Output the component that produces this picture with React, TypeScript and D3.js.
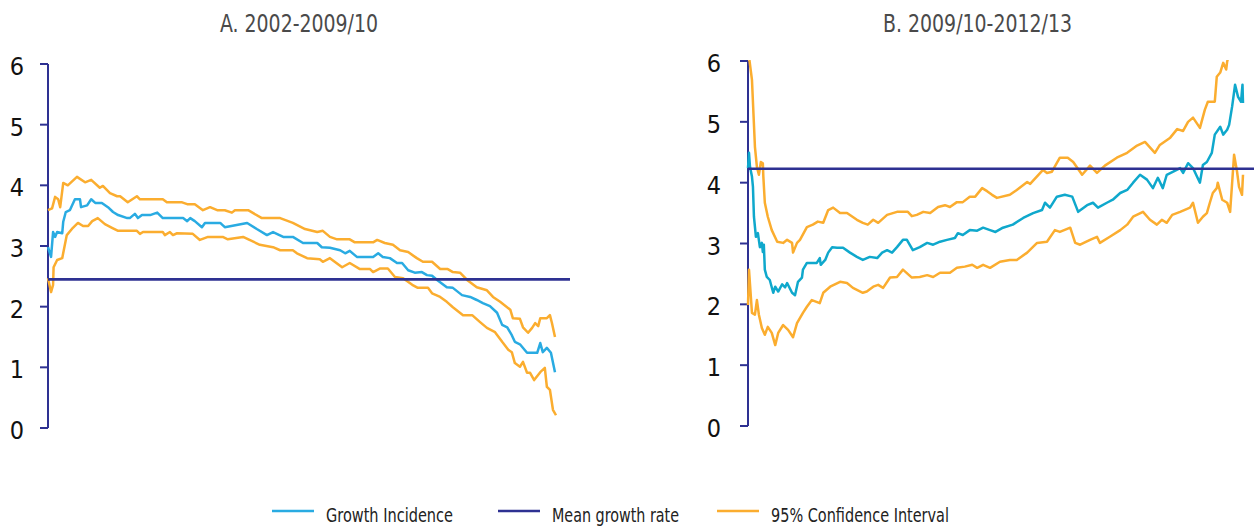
import React from "react";
import * as d3 from "d3";

// ---------- DATA ----------
const titles = ["A. 2002-2009/10", "B. 2009/10-2012/13"];
const yTicks = [0, 1, 2, 3, 4, 5, 6];
const legendLabels = ["Growth Incidence", "Mean growth rate", "95% Confidence Interval"];

const meanA = 2.45;
const meanB = 4.23;

// [percentile, growth rate]
const growthA: [number, number][] = [
  [0, 2.98], [0.6, 2.82], [1.0, 3.23], [1.4, 3.15], [1.8, 3.23], [2.8, 3.21], [3.0, 3.4], [3.5, 3.56],
  [4.3, 3.59], [5.3, 3.77], [6.3, 3.77], [6.5, 3.64], [7.7, 3.67], [8.5, 3.77], [9.3, 3.71], [10.6, 3.71],
  [11.8, 3.64], [12.8, 3.56], [13.8, 3.51], [15.6, 3.46], [16.1, 3.46], [17.1, 3.53], [17.7, 3.46],
  [18.5, 3.51], [20.1, 3.51], [21.5, 3.55], [22.6, 3.46], [26.6, 3.46], [27.4, 3.41], [28.0, 3.46],
  [28.9, 3.41], [30.3, 3.31], [30.9, 3.38], [33.9, 3.38], [34.8, 3.31], [39.2, 3.38], [41.1, 3.28],
  [43.1, 3.18], [44.3, 3.23], [46.3, 3.15], [48.2, 3.15], [50.2, 3.05], [53.0, 3.05], [53.9, 2.98],
  [55.5, 2.97], [57.5, 2.93], [58.5, 2.88], [59.4, 2.92], [60.8, 2.82], [64.0, 2.82], [65.0, 2.88],
  [65.9, 2.82], [67.3, 2.8], [68.7, 2.72], [69.7, 2.72], [70.9, 2.6], [72.2, 2.56], [73.6, 2.57],
  [74.6, 2.52], [75.6, 2.51], [76.6, 2.44], [78.5, 2.32], [79.7, 2.31], [81.5, 2.19], [83.1, 2.16],
  [84.4, 2.11], [85.6, 2.06], [87.0, 2.01], [88.4, 1.9], [89.4, 1.7], [90.4, 1.66], [91.3, 1.53],
  [91.9, 1.42], [92.9, 1.38], [94.3, 1.24], [96.3, 1.24], [96.9, 1.4], [97.4, 1.25], [98.2, 1.32],
  [99.0, 1.24], [99.8, 0.92],
];

const upperA: [number, number][] = [
  [0, 3.59], [0.8, 3.62], [1.4, 3.81], [2.0, 3.77], [2.4, 3.64], [3.0, 4.04], [3.9, 4.0], [5.7, 4.14],
  [7.3, 4.05], [8.5, 4.09], [10.2, 3.96], [10.8, 3.99], [12.2, 3.87], [13.6, 3.82], [14.2, 3.82],
  [15.7, 3.72], [17.5, 3.82], [18.1, 3.77], [22.6, 3.77], [23.4, 3.72], [26.4, 3.72], [27.4, 3.69],
  [28.9, 3.69], [30.5, 3.59], [31.9, 3.64], [33.3, 3.59], [34.8, 3.59], [36.2, 3.55], [36.8, 3.59],
  [39.4, 3.59], [42.1, 3.46], [45.7, 3.46], [48.2, 3.38], [50.6, 3.28], [53.0, 3.23], [54.1, 3.25],
  [55.5, 3.15], [56.9, 3.11], [59.4, 3.11], [60.4, 3.06], [64.0, 3.06], [64.8, 3.1], [66.3, 3.05],
  [67.9, 3.02], [69.3, 2.93], [70.9, 2.9], [72.6, 2.8], [73.8, 2.74], [75.6, 2.74], [77.2, 2.62],
  [78.7, 2.62], [79.7, 2.57], [81.1, 2.56], [82.5, 2.44], [84.4, 2.32], [86.4, 2.27], [87.6, 2.16],
  [89.0, 2.08], [91.0, 1.95], [91.5, 1.81], [92.9, 1.8], [93.5, 1.66], [94.5, 1.57], [95.3, 1.65],
  [95.9, 1.73], [96.5, 1.68], [96.9, 1.81], [98.2, 1.81], [98.8, 1.86], [99.2, 1.73], [99.8, 1.5],
];

const lowerA: [number, number][] = [
  [0, 2.47], [0.6, 2.24], [1.0, 2.36], [1.1, 2.65], [1.8, 2.77], [2.8, 2.8], [3.7, 3.18], [4.9, 3.3],
  [5.9, 3.38], [6.9, 3.33], [7.9, 3.33], [8.7, 3.41], [9.8, 3.46], [11.2, 3.36], [12.6, 3.3],
  [13.8, 3.25], [17.5, 3.25], [18.1, 3.2], [18.7, 3.23], [22.6, 3.23], [23.0, 3.18], [24.0, 3.23],
  [24.6, 3.18], [25.4, 3.21], [28.5, 3.2], [29.9, 3.1], [31.5, 3.15], [34.4, 3.15], [35.4, 3.11],
  [38.4, 3.15], [41.7, 3.02], [44.3, 2.98], [45.7, 2.93], [48.2, 2.93], [49.0, 2.88], [51.0, 2.8],
  [53.5, 2.78], [54.1, 2.74], [55.5, 2.8], [57.9, 2.65], [59.4, 2.72], [61.4, 2.62], [63.4, 2.62],
  [64.0, 2.57], [65.4, 2.63], [66.9, 2.63], [68.3, 2.49], [69.9, 2.47], [71.7, 2.36], [72.8, 2.31],
  [74.8, 2.31], [75.6, 2.22], [77.2, 2.16], [78.5, 2.08], [79.7, 1.99], [81.7, 1.86], [83.5, 1.86],
  [85.0, 1.75], [86.4, 1.65], [88.0, 1.58], [89.4, 1.42], [90.6, 1.29], [91.3, 1.25], [91.9, 1.07],
  [92.9, 1.01], [93.5, 1.09], [94.3, 0.91], [94.9, 0.91], [95.7, 0.79], [96.9, 0.92], [97.8, 0.99],
  [98.2, 0.68], [98.8, 0.63], [99.4, 0.3], [100, 0.21],
];

const growthB: [number, number][] = [
  [0, 4.24], [0.2, 4.49], [0.4, 4.26], [0.8, 4.1], [1.0, 3.93], [1.2, 3.44], [1.6, 3.11], [2.0, 3.17],
  [2.4, 2.94], [2.8, 3.01], [3.0, 2.86], [3.2, 2.98], [3.4, 2.57], [3.8, 2.45], [4.4, 2.4], [5.1, 2.19],
  [5.5, 2.29], [6.1, 2.21], [6.9, 2.33], [7.5, 2.28], [7.9, 2.35], [8.9, 2.19], [9.5, 2.15], [10.1, 2.37],
  [10.9, 2.44], [11.1, 2.57], [11.9, 2.68], [13.9, 2.68], [14.5, 2.76], [14.7, 2.65], [15.6, 2.73],
  [16.2, 2.85], [17.0, 2.94], [18.0, 2.93], [19.2, 2.93], [20.6, 2.85], [22.0, 2.78], [23.2, 2.73],
  [24.6, 2.78], [26.1, 2.76], [27.1, 2.85], [28.1, 2.89], [29.1, 2.85], [30.1, 2.94], [31.3, 3.06],
  [32.1, 3.06], [33.3, 2.89], [34.7, 2.94], [36.2, 3.01], [37.4, 2.98], [38.8, 3.03], [40.2, 3.06],
  [41.8, 3.09], [42.4, 3.17], [43.4, 3.14], [44.8, 3.22], [46.3, 3.21], [47.5, 3.26], [48.9, 3.22],
  [50.0, 3.19], [51.5, 3.26], [53.5, 3.31], [55.6, 3.42], [57.6, 3.5], [59.4, 3.55], [60.0, 3.67],
  [61.0, 3.59], [62.4, 3.77], [64.0, 3.8], [65.5, 3.77], [66.7, 3.52], [68.5, 3.63], [69.7, 3.67],
  [70.7, 3.59], [72.5, 3.67], [73.7, 3.72], [75.2, 3.83], [76.6, 3.88], [77.8, 4.0], [79.2, 4.13],
  [80.6, 4.05], [81.8, 3.91], [82.8, 4.08], [83.8, 3.91], [84.6, 4.13], [85.9, 4.18], [87.3, 4.24],
  [87.9, 4.16], [88.9, 4.32], [89.9, 4.24], [90.7, 4.1], [91.3, 4.0], [91.9, 4.29], [92.7, 4.34],
  [93.7, 4.49], [94.3, 4.79], [95.4, 4.92], [96.0, 4.79], [96.8, 4.87], [97.2, 4.95], [97.8, 5.25],
  [98.4, 5.61], [99.0, 5.41], [99.6, 5.33], [99.9, 5.61], [100, 5.31],
];

const upperB: [number, number][] = [
  [0, 6.2], [0.8, 5.69], [1.4, 4.59], [1.8, 4.26], [2.2, 4.13], [2.6, 4.34], [3.0, 4.32], [3.1, 4.1],
  [3.4, 3.67], [4.0, 3.44], [4.8, 3.22], [5.9, 3.03], [7.1, 3.01], [7.9, 3.06], [8.9, 3.01], [9.1, 2.85],
  [9.9, 3.01], [10.5, 3.06], [11.9, 3.27], [13.1, 3.31], [14.1, 3.36], [15.2, 3.34], [16.2, 3.55],
  [17.2, 3.59], [18.6, 3.5], [20.0, 3.5], [22.0, 3.39], [23.2, 3.34], [24.2, 3.31], [25.3, 3.39],
  [26.3, 3.34], [28.1, 3.47], [30.1, 3.52], [32.3, 3.52], [33.1, 3.45], [34.1, 3.47], [35.4, 3.52],
  [36.8, 3.5], [38.4, 3.6], [39.8, 3.63], [40.8, 3.6], [42.2, 3.68], [43.4, 3.68], [44.8, 3.77],
  [45.9, 3.77], [47.3, 3.91], [48.3, 3.86], [49.3, 3.8], [50.3, 3.75], [52.9, 3.8], [54.3, 3.88],
  [56.4, 4.01], [57.0, 3.98], [59.6, 4.21], [60.4, 4.16], [61.4, 4.18], [63.0, 4.41], [64.6, 4.41],
  [65.7, 4.34], [67.5, 4.13], [69.1, 4.28], [70.5, 4.16], [72.1, 4.28], [74.5, 4.41], [76.6, 4.49],
  [78.6, 4.61], [80.2, 4.67], [82.2, 4.49], [83.2, 4.62], [85.3, 4.74], [86.7, 4.88], [87.9, 4.85],
  [88.9, 5.0], [89.9, 5.07], [91.3, 4.9], [92.3, 5.2], [92.9, 5.33], [94.3, 5.33], [94.7, 5.74],
  [95.4, 5.81], [96.0, 5.97], [96.6, 5.86], [96.8, 5.99], [97.8, 6.3], [99.0, 6.6], [100, 6.8],
];

const lowerB: [number, number][] = [
  [0, 1.99], [0.2, 2.57], [0.8, 1.86], [1.4, 1.83], [1.8, 2.07], [2.2, 1.83], [2.8, 1.61], [3.4, 1.5],
  [4.0, 1.63], [4.8, 1.53], [5.5, 1.33], [6.1, 1.53], [7.1, 1.66], [8.1, 1.58], [9.1, 1.46], [9.9, 1.69],
  [11.1, 1.86], [11.9, 1.96], [12.9, 2.07], [14.5, 2.02], [15.2, 2.19], [16.6, 2.29], [18.6, 2.37],
  [20.0, 2.35], [21.2, 2.27], [23.2, 2.19], [24.0, 2.21], [25.3, 2.29], [26.3, 2.32], [27.3, 2.27],
  [28.7, 2.44], [30.1, 2.45], [31.3, 2.57], [33.1, 2.44], [34.7, 2.45], [36.2, 2.48], [37.4, 2.45],
  [38.8, 2.52], [40.8, 2.52], [42.2, 2.6], [43.8, 2.62], [45.3, 2.65], [46.3, 2.6], [47.5, 2.65],
  [48.9, 2.6], [50.9, 2.7], [52.9, 2.73], [54.3, 2.73], [56.4, 2.85], [58.4, 3.01], [60.4, 3.03],
  [62.0, 3.22], [63.0, 3.19], [65.1, 3.26], [66.1, 3.01], [67.1, 2.98], [69.1, 3.06], [70.5, 3.11],
  [71.1, 3.01], [73.1, 3.11], [75.2, 3.22], [76.6, 3.31], [77.8, 3.44], [79.8, 3.52], [81.2, 3.39],
  [82.6, 3.31], [83.6, 3.39], [84.6, 3.34], [85.7, 3.47], [87.3, 3.52], [89.3, 3.59], [89.9, 3.67],
  [90.9, 3.34], [91.9, 3.44], [92.7, 3.5], [93.3, 3.67], [93.9, 3.83], [94.7, 3.91], [94.9, 4.0],
  [95.8, 3.72], [96.8, 3.67], [97.4, 3.52], [98.2, 4.46], [98.8, 4.18], [99.2, 3.93], [99.8, 3.8],
  [100, 4.13],
];

// ---------- STYLE / LAYOUT ----------
const W = 1254;
const H = 526;
const NAVY = "#2e3192";
const ORANGE = "#fbad2f";
const BLUE_A = "#29abe2";
const BLUE_B = "#0fa8cc";
const FONT = "'DejaVu Sans Condensed', 'DejaVu Sans', sans-serif";

type Panel = {
  title: string;
  titleX: number;
  titleW: number;
  axisX: number;
  xStart: number;
  xEnd: number;
  meanEnd: number;
  yTop: number;
  yBottom: number;
  labelX: number;
  growth: [number, number][];
  upper: [number, number][];
  lower: [number, number][];
  mean: number;
  blue: string;
  id: string;
};

const panels: Panel[] = [
  {
    title: titles[0], titleX: 220, titleW: 158, axisX: 48, xStart: 48, xEnd: 556, meanEnd: 570,
    yTop: 64, yBottom: 428, labelX: 24, growth: growthA, upper: upperA, lower: lowerA,
    mean: meanA, blue: BLUE_A, id: "a",
  },
  {
    title: titles[1], titleX: 883, titleW: 189, axisX: 748, xStart: 748, xEnd: 1243, meanEnd: 1254,
    yTop: 61, yBottom: 426, labelX: 721, growth: growthB, upper: upperB, lower: lowerB,
    mean: meanB, blue: BLUE_B, id: "b",
  },
];

function PanelView({ p }: { p: Panel }) {
  const x = d3.scaleLinear().domain([0, 100]).range([p.xStart, p.xEnd]);
  const y = d3.scaleLinear().domain([0, 6]).range([p.yBottom, p.yTop]);
  const line = d3
    .line<[number, number]>()
    .x((d) => x(d[0]))
    .y((d) => y(d[1]));
  const clipId = `clip-${p.id}`;
  return (
    <g>
      <defs>
        <clipPath id={clipId}>
          <rect x={p.axisX - 4} y={y(6) - 1} width={p.meanEnd - p.axisX + 8} height={y(0) - y(6) + 2} />
        </clipPath>
      </defs>
      <text
        x={p.titleX}
        y={32}
        fontFamily={FONT}
        fontStretch="condensed"
        fontSize={24}
        textLength={p.titleW}
        lengthAdjust="spacingAndGlyphs"
        fill="#4a4a4a"
      >
        {p.title}
      </text>
      {/* y axis */}
      <line x1={p.axisX} x2={p.axisX} y1={y(6)} y2={y(0)} stroke={NAVY} strokeWidth={2} />
      {yTicks.map((t) => (
        <g key={t}>
          <line x1={p.axisX - 8} x2={p.axisX} y1={y(t)} y2={y(t)} stroke={NAVY} strokeWidth={2} />
          <text
            x={p.labelX}
            y={y(t) + 2}
            dy="0.36em"
            textAnchor="end"
            fontFamily={FONT}
            fontStretch="condensed"
            fontSize={25}
            fill="#111"
          >
            {t}
          </text>
        </g>
      ))}
      <g clipPath={`url(#${clipId})`}>
        <path d={line(p.upper) || ""} fill="none" stroke={ORANGE} strokeWidth={2.5} strokeLinejoin="round" />
        <path d={line(p.lower) || ""} fill="none" stroke={ORANGE} strokeWidth={2.5} strokeLinejoin="round" />
        <path d={line(p.growth) || ""} fill="none" stroke={p.blue} strokeWidth={2.5} strokeLinejoin="round" />
      </g>
      <line x1={p.axisX} x2={p.meanEnd} y1={y(p.mean)} y2={y(p.mean)} stroke={NAVY} strokeWidth={2.6} />
    </g>
  );
}

const legendItems = [
  { label: legendLabels[0], color: BLUE_A, x: 272, w: 127 },
  { label: legendLabels[1], color: NAVY, x: 498, w: 127 },
  { label: legendLabels[2], color: ORANGE, x: 717, w: 178 },
];

export default function App() {
  return (
    <svg
      width={W}
      height={H}
      viewBox={`0 0 ${W} ${H}`}
      style={{ position: "absolute", left: 0, top: 0, background: "#fff" }}
    >
      <rect width={W} height={H} fill="#fff" />
      {panels.map((p) => (
        <PanelView key={p.id} p={p} />
      ))}
      {legendItems.map((it) => (
        <g key={it.label}>
          <line x1={it.x} x2={it.x + 42} y1={511} y2={511} stroke={it.color} strokeWidth={2.6} />
          <text
            x={it.x + 54}
            y={522}
            fontFamily={FONT}
            fontStretch="condensed"
            fontSize={20}
            textLength={it.w}
            lengthAdjust="spacingAndGlyphs"
            fill="#222"
          >
            {it.label}
          </text>
        </g>
      ))}
    </svg>
  );
}
